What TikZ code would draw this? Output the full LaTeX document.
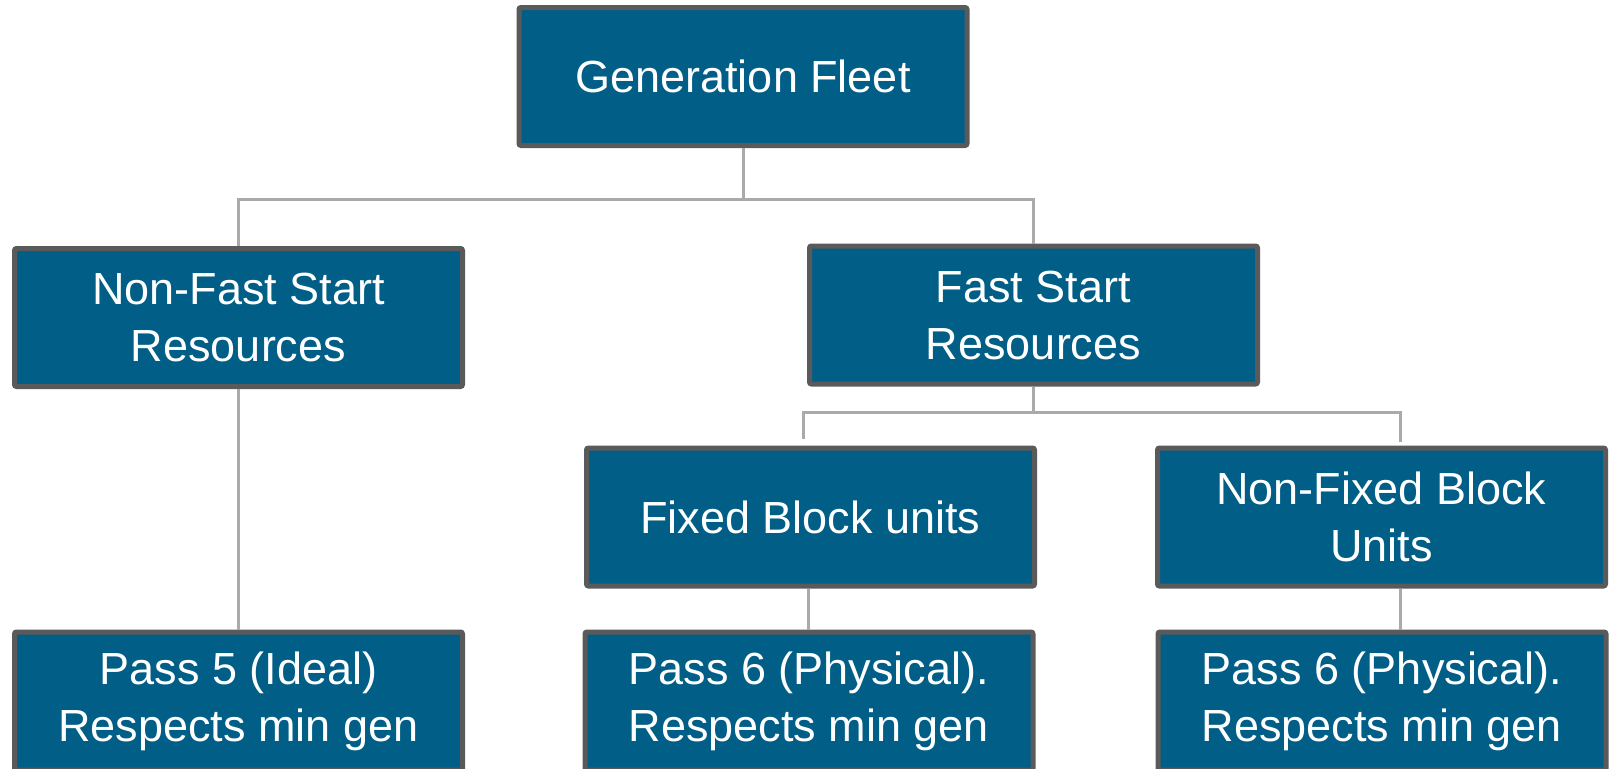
\documentclass[tikz,border=0pt]{standalone}
\usepackage{fontspec}
\setmainfont{Liberation Sans}
\usepackage{tikz}
\usetikzlibrary{calc}
\definecolor{fleetblue}{RGB}{0,94,135}
\definecolor{fleetedge}{RGB}{90,90,90}
\definecolor{fleetline}{RGB}{170,170,170}
\tikzstyle{unit}=[rectangle, rounded corners=1pt, draw=fleetedge, fill=fleetblue, line width=2.5pt, text=white, align=center, inner sep=0pt, minimum width=224pt, minimum height=69pt, font=\fontsize{22.5}{28.5}\selectfont]
\tikzstyle{link}=[draw=fleetline, line width=1.5pt]

\begin{document}
\begin{tikzpicture}[x=0.5pt, y=-0.5pt]

\clip (0,0) rectangle (1614,768);
\useasboundingbox (0,0) rectangle (1614,768);

\node[unit] (gen)      at (743,76.5)   {Generation Fleet};
\node[unit] (nfs)      at (238.5,317.5) {Non-Fast Start\\Resources};
\node[unit] (fs)       at (1033.5,315) {Fast Start\\Resources};
\node[unit] (fixed)    at (810.5,517)  {Fixed Block units};
\node[unit] (nonfixed) at (1381.5,517) {Non-Fixed Block\\Units};
\node[unit] (pass5)    at (238.5,701)  {Pass 5 (Ideal)\\Respects min gen};
\node[unit] (pass6a)   at (809,701)    {Pass 6 (Physical).\\Respects min gen};
\node[unit] (pass6b)   at (1382,701)   {Pass 6 (Physical).\\Respects min gen};

\coordinate (genbus) at (743,199);
\coordinate (fsbus)  at (1033.5,412);

\draw[link] (gen.south) -- (genbus);
\draw[link] (genbus) -| (nfs.north);
\draw[link] (genbus) -| (fs.north);
\draw[link] (fs.south) -- (fsbus);
\draw[link, shorten >=3.5pt] (fsbus) -| ([xshift=-3.5pt]fixed.north);
\draw[link, shorten >=2pt] (fsbus) -| ([xshift=9.5pt]nonfixed.north);
\draw[link] (nfs.south) -- (pass5.north);
\draw[link] ([xshift=-1pt]fixed.south) -- ([xshift=-1pt]fixed.south |- pass6a.north);
\draw[link] ([xshift=9.5pt]nonfixed.south) -- ([xshift=9.5pt]nonfixed.south |- pass6b.north);

\end{tikzpicture}
\end{document}
